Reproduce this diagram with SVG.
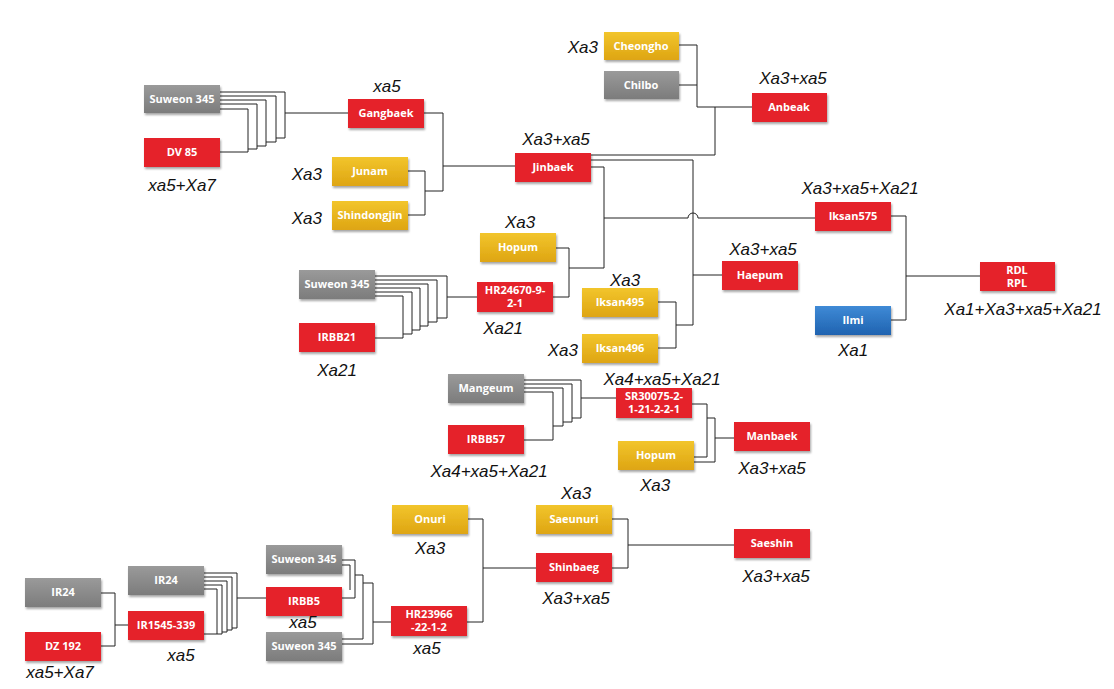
<svg xmlns="http://www.w3.org/2000/svg" width="1114" height="689" viewBox="0 0 1114 689">
<defs>
<filter id="sh" x="-10%" y="-10%" width="130%" height="140%"><feDropShadow dx="1" dy="2" stdDeviation="1" flood-color="#000" flood-opacity="0.35"/></filter>
<linearGradient id="gr" x1="0" y1="0" x2="0" y2="1"><stop offset="0" stop-color="#9a9a9a"/><stop offset="1" stop-color="#7c7c7c"/></linearGradient>
<linearGradient id="gy" x1="0" y1="0" x2="0" y2="1"><stop offset="0" stop-color="#f2c52c"/><stop offset="1" stop-color="#dea512"/></linearGradient>
<linearGradient id="gb" x1="0" y1="0" x2="0" y2="1"><stop offset="0" stop-color="#3f8ad6"/><stop offset="1" stop-color="#1f63b0"/></linearGradient>
</defs>
<style>
rect{filter:url(#sh)}
.r{fill:#e5242a}.g{fill:url(#gr)}.y{fill:url(#gy)}.b{fill:url(#gb)}
.t{font-family:"Open Sans","Liberation Sans",sans-serif;font-weight:bold;font-size:11px;fill:#fff;text-anchor:middle}
.l{font-family:"Liberation Sans Narrow","Liberation Sans",sans-serif;font-style:italic;font-size:17px;fill:#111;text-anchor:middle}
.e{text-anchor:end}
#conn path{fill:none;stroke:#222;stroke-width:1}
</style>
<rect width="1114" height="689" fill="#fff" style="filter:none"/>
<g id="conn">
<path d="M679,45 H697 V85 H679 M697,85 V107 H752 M591,155 H715 V107"/>
<path d="M220,92 H285 V138 H276 M220,96 H276 V142 H266 M220,100 H266 V146 H257 M220,104 H257 V149 H248 M220,109 H248 V152 H220 M285,113 H348"/>
<path d="M424,113 H443 V191 M408,171 H425 V215 H408 M425,191 H443 M443,166 H515"/>
<path d="M591,160 H693 V325 M591,167 H604 V268 M604,218 H688 A5,5 0 0 1 698,218 H815 M556,248 H569 V297 H553 M569,268 H604"/>
<path d="M693,275 H722 M658,302 H676 V348 H658 M676,325 H693"/>
<path d="M891,216 H906 V320 H891 M906,276 H980"/>
<path d="M375,276 H447 V318 H437 M375,280 H437 V322 H428 M375,284 H428 V326 H420 M375,288 H420 V330 H412 M375,292 H412 V334 H403 M375,296 H403 V338 H375 M447,297 H477"/>
<path d="M524,380 H581 V418 H572 M524,384 H572 V422 H563 M524,388 H563 V426 H553 M524,392 H553 V440 H524 M581,398 H616"/>
<path d="M692,404 H707 V457 H694 M694,462 H715 V418 H707 M715,438 H734"/>
<path d="M101,593 H115 V646 H101 M115,625 H128"/>
<path d="M204,573 H237 V628 H232 M204,577 H232 V630 H227 M204,581 H227 V632 H222 M204,585 H222 V634 H217 M204,589 H217 V634 H204 M237,598 H266"/>
<path d="M342,560 H355 V598 H342 M342,565 H350 V590 M355,575 H363 V639 H342 M363,583 H373 V644 H342 M373,622 H391"/>
<path d="M467,622 H483 V519 H468 M483,568 H536 M612,519 H628 V568 H612 M628,545 H734"/>
</g>
<g id="n-cheongho"><rect class="y" x="604" y="32" width="75" height="28"/><text class="t" x="641" y="50">Cheongho</text></g>
<g id="n-chilbo"><rect class="g" x="604" y="71" width="75" height="28"/><text class="t" x="641" y="89">Chilbo</text></g>
<g id="n-anbeak"><rect class="r" x="752" y="93" width="75" height="29"/><text class="t" x="789" y="111">Anbeak</text></g>
<g id="n-suweon1"><rect class="g" x="144" y="85" width="76" height="28"/><text class="t" x="182" y="103">Suweon 345</text></g>
<g id="n-dv85"><rect class="r" x="144" y="138" width="76" height="29"/><text class="t" x="182" y="156">DV 85</text></g>
<g id="n-gangbaek"><rect class="r" x="348" y="99" width="76" height="29"/><text class="t" x="386" y="117">Gangbaek</text></g>
<g id="n-junam"><rect class="y" x="332" y="157" width="76" height="29"/><text class="t" x="370" y="175">Junam</text></g>
<g id="n-shindongjin"><rect class="y" x="332" y="201" width="76" height="29"/><text class="t" x="370" y="219">Shindongjin</text></g>
<g id="n-jinbaek"><rect class="r" x="515" y="153" width="76" height="29"/><text class="t" x="553" y="171">Jinbaek</text></g>
<g id="n-hopum1"><rect class="y" x="480" y="233" width="76" height="29"/><text class="t" x="518" y="251">Hopum</text></g>
<g id="n-hr24670"><rect class="r" x="477" y="282" width="76" height="30"/><text class="t" x="515" y="294">HR24670-9-</text><text class="t" x="515" y="307">2-1</text></g>
<g id="n-suweon2"><rect class="g" x="299" y="270" width="76" height="29"/><text class="t" x="337" y="288">Suweon 345</text></g>
<g id="n-irbb21"><rect class="r" x="299" y="323" width="76" height="29"/><text class="t" x="337" y="341">IRBB21</text></g>
<g id="n-iksan495"><rect class="y" x="582" y="288" width="76" height="29"/><text class="t" x="620" y="306">Iksan495</text></g>
<g id="n-iksan496"><rect class="y" x="582" y="334" width="76" height="29"/><text class="t" x="620" y="352">Iksan496</text></g>
<g id="n-haepum"><rect class="r" x="722" y="261" width="76" height="29"/><text class="t" x="760" y="279">Haepum</text></g>
<g id="n-iksan575"><rect class="r" x="815" y="202" width="76" height="29"/><text class="t" x="853" y="220">Iksan575</text></g>
<g id="n-ilmi"><rect class="b" x="815" y="306" width="76" height="29"/><text class="t" x="853" y="324">Ilmi</text></g>
<g id="n-rdlrpl"><rect class="r" x="980" y="262" width="75" height="29"/><text class="t" x="1017" y="274">RDL</text><text class="t" x="1017" y="287">RPL</text></g>
<g id="n-mangeum"><rect class="g" x="448" y="374" width="76" height="29"/><text class="t" x="486" y="392">Mangeum</text></g>
<g id="n-irbb57"><rect class="r" x="448" y="425" width="76" height="29"/><text class="t" x="486" y="443">IRBB57</text></g>
<g id="n-sr30075"><rect class="r" x="616" y="388" width="76" height="30"/><text class="t" x="654" y="400">SR30075-2-</text><text class="t" x="654" y="413">1-21-2-2-1</text></g>
<g id="n-hopum2"><rect class="y" x="618" y="441" width="76" height="29"/><text class="t" x="656" y="459">Hopum</text></g>
<g id="n-manbaek"><rect class="r" x="734" y="422" width="76" height="29"/><text class="t" x="772" y="440">Manbaek</text></g>
<g id="n-onuri"><rect class="y" x="392" y="505" width="76" height="29"/><text class="t" x="430" y="523">Onuri</text></g>
<g id="n-saeunuri"><rect class="y" x="536" y="505" width="76" height="29"/><text class="t" x="574" y="523">Saeunuri</text></g>
<g id="n-shinbaeg"><rect class="r" x="536" y="553" width="76" height="29"/><text class="t" x="574" y="571">Shinbaeg</text></g>
<g id="n-saeshin"><rect class="r" x="734" y="529" width="76" height="29"/><text class="t" x="772" y="547">Saeshin</text></g>
<g id="n-ir24a"><rect class="g" x="25" y="578" width="76" height="29"/><text class="t" x="63" y="596">IR24</text></g>
<g id="n-dz192"><rect class="r" x="25" y="632" width="76" height="29"/><text class="t" x="63" y="650">DZ 192</text></g>
<g id="n-ir24b"><rect class="g" x="128" y="566" width="76" height="29"/><text class="t" x="166" y="584">IR24</text></g>
<g id="n-ir1545"><rect class="r" x="128" y="611" width="76" height="29"/><text class="t" x="166" y="629">IR1545-339</text></g>
<g id="n-suweon3"><rect class="g" x="266" y="545" width="76" height="29"/><text class="t" x="304" y="563">Suweon 345</text></g>
<g id="n-irbb5"><rect class="r" x="266" y="587" width="76" height="29"/><text class="t" x="304" y="605">IRBB5</text></g>
<g id="n-suweon4"><rect class="g" x="266" y="632" width="76" height="29"/><text class="t" x="304" y="650">Suweon 345</text></g>
<g id="n-hr23966"><rect class="r" x="391" y="606" width="76" height="30"/><text class="t" x="429" y="618">HR23966</text><text class="t" x="429" y="631">-22-1-2</text></g>
<g id="labels">
<text class="l e" x="598" y="53">Xa3</text>
<text class="l" x="793" y="84">Xa3+xa5</text>
<text class="l" x="387" y="92">xa5</text>
<text class="l" x="182" y="191">xa5+Xa7</text>
<text class="l e" x="322" y="180">Xa3</text>
<text class="l e" x="322" y="224">Xa3</text>
<text class="l" x="556" y="145">Xa3+xa5</text>
<text class="l" x="860" y="194">Xa3+xa5+Xa21</text>
<text class="l" x="520" y="228">Xa3</text>
<text class="l" x="763" y="255">Xa3+xa5</text>
<text class="l" x="625" y="286">Xa3</text>
<text class="l" x="503" y="334">Xa21</text>
<text class="l e" x="578" y="356">Xa3</text>
<text class="l" x="337" y="376">Xa21</text>
<text class="l" x="1023" y="315">Xa1+Xa3+xa5+Xa21</text>
<text class="l" x="853" y="356">Xa1</text>
<text class="l" x="662" y="385">Xa4+xa5+Xa21</text>
<text class="l" x="489" y="477">Xa4+xa5+Xa21</text>
<text class="l" x="772" y="474">Xa3+xa5</text>
<text class="l" x="655" y="491">Xa3</text>
<text class="l" x="576" y="499">Xa3</text>
<text class="l" x="430" y="554">Xa3</text>
<text class="l" x="576" y="604">Xa3+xa5</text>
<text class="l" x="776" y="582">Xa3+xa5</text>
<text class="l" x="303" y="628">xa5</text>
<text class="l" x="427" y="654">xa5</text>
<text class="l" x="181" y="661">xa5</text>
<text class="l" x="60" y="678">xa5+Xa7</text>
</g>
</svg>
